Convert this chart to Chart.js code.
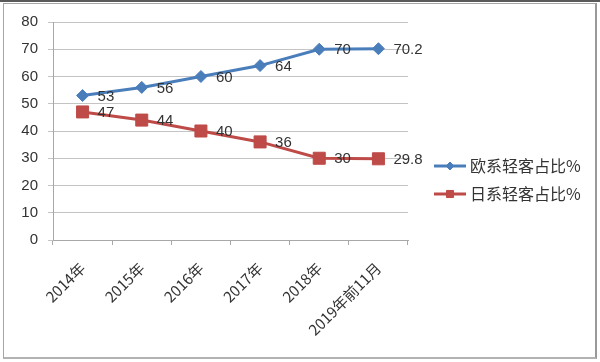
<!DOCTYPE html>
<html>
<head>
<meta charset="utf-8">
<script src="https://cdn.jsdelivr.net/npm/chart.js@4/dist/chart.umd.min.js"></script>
<style>
  body { margin: 0; background: #fff; }
  #wrap { position: relative; width: 600px; height: 362px; }
  canvas { position: absolute; left: 0; top: 0; }
  #cornice { position: absolute; left: 3px; top: 3px; width: 591px; height: 353px;
    border: 1px solid #a6a6a6; border-right: 2px solid #999; border-bottom: 2px solid #b3b3b3; }
  #riga { position: absolute; left: 0; top: 0; width: 600px; height: 2px; background: #5a5a5a; }
</style>
</head>
<body>
<div id="wrap">
  <canvas id="grafico" width="600" height="362"></canvas>
  <div id="cornice"></div>
  <div id="riga"></div>
</div>
<script>
const categorie = ["2014年", "2015年", "2016年", "2017年", "2018年", "2019年前11月"];
const europei = [53, 56, 60, 64, 70, 70.2];
const giapponesi = [47, 44, 40, 36, 30, 29.8];
const nomiSerie = ["欧系轻客占比%", "日系轻客占比%"];
const yMin = 0;
const yMax = 80;
const yPasso = 10;

const blu = "#4a7ebb";
const rosso = "#be4b48";
const fontNum = "'Liberation Sans', Arial, sans-serif";
const fontCjk = "'Noto Sans CJK SC', 'Liberation Sans', sans-serif";

// etichette dei valori a destra dei punti
const etichette = {
  id: "etichette",
  afterDatasetsDraw(chart) {
    const ctx = chart.ctx;
    ctx.save();
    ctx.font = "15px " + fontNum;
    ctx.fillStyle = "#333";
    ctx.textBaseline = "middle";
    ctx.textAlign = "left";
    chart.data.datasets.forEach((ds, i) => {
      chart.getDatasetMeta(i).data.forEach((p, j) => {
        ctx.fillText(String(ds.data[j]), p.x + 15, p.y + 1);
      });
    });
    ctx.restore();
  },
};

// legenda disegnata a mano: linea con marcatore piccolo
const legenda = {
  id: "legenda",
  afterDraw(chart) {
    const ctx = chart.ctx;
    const x0 = chart.chartArea.right + 26;
    const y0 = chart.chartArea.top + 144;
    const raggi = [4, 5];
    ctx.save();
    chart.data.datasets.forEach((ds, i) => {
      const y = y0 + i * 28;
      ctx.strokeStyle = ds.borderColor;
      ctx.lineWidth = 3;
      ctx.beginPath();
      ctx.moveTo(x0, y);
      ctx.lineTo(x0 + 32, y);
      ctx.stroke();
      ctx.fillStyle = ds.backgroundColor;
      ctx.lineWidth = 1;
      Chart.helpers.drawPoint(ctx, { pointStyle: ds.pointStyle, radius: raggi[i], borderWidth: 1 }, x0 + 16, y);
      ctx.fillStyle = "#333";
      ctx.font = "16px " + fontCjk;
      ctx.textBaseline = "middle";
      ctx.fillText(ds.label, x0 + 36, y);
    });
    ctx.restore();
  },
};

const data = {
  labels: categorie,
  datasets: [
    {
      label: nomiSerie[0],
      data: europei,
      borderColor: blu,
      backgroundColor: blu,
      borderWidth: 3,
      pointStyle: "rectRot",
      pointRadius: 6,
      pointBorderWidth: 1,
      tension: 0,
    },
    {
      label: nomiSerie[1],
      data: giapponesi,
      borderColor: rosso,
      backgroundColor: rosso,
      borderWidth: 3,
      pointStyle: "rect",
      pointRadius: 8.5,
      pointBorderWidth: 1,
      tension: 0,
    },
  ],
};

const config = {
  type: "line",
  data: data,
  options: {
    responsive: false,
    animation: false,
    devicePixelRatio: 1,
    layout: { padding: { left: 0, right: 192, top: 22, bottom: 0 } },
    plugins: {
      legend: { display: false },
      tooltip: { enabled: false },
    },
    scales: {
      x: {
        offset: true,
        afterFit: (s) => { s.height = 122; },
        grid: { drawOnChartArea: false, drawTicks: true, tickLength: 5, offset: true, color: "#a8a8a8" },
        border: { color: "#a8a8a8" },
        ticks: {
          maxRotation: 45,
          minRotation: 45,
          padding: 14,
          color: "#333",
          font: { family: fontCjk, size: 15 },
        },
      },
      y: {
        min: yMin,
        max: yMax,
        afterFit: (s) => { s.width = 53; },
        grid: { color: "#c4c4c4", tickLength: 5 },
        border: { color: "#a8a8a8" },
        ticks: {
          stepSize: yPasso,
          padding: 10,
          color: "#333",
          font: { family: fontNum, size: 15 },
        },
      },
    },
  },
  plugins: [etichette, legenda],
};

const grafico = new Chart(document.getElementById("grafico"), config);
</script>
</body>
</html>
